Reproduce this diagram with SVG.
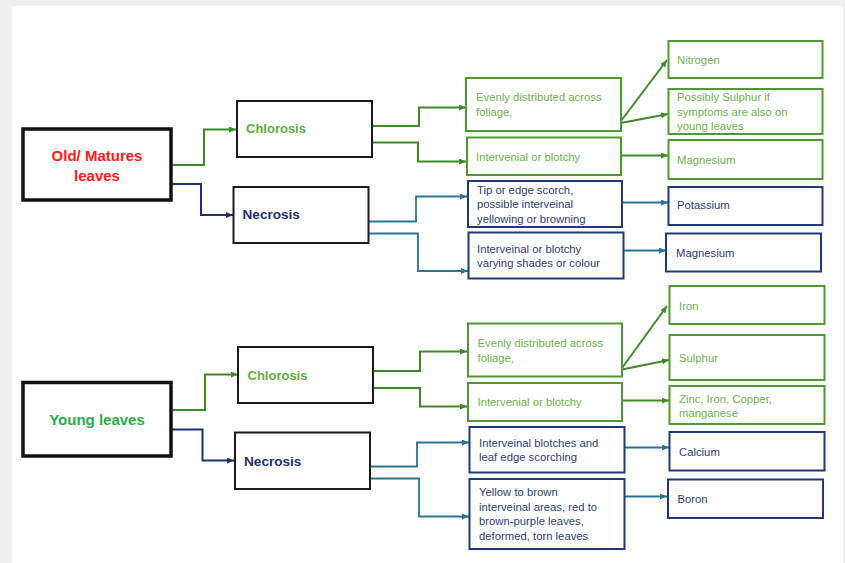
<svg xmlns="http://www.w3.org/2000/svg" width="845" height="563" viewBox="0 0 845 563">
<defs>
<style>
text{font-family:"Liberation Sans",Arial,sans-serif}
.bk{fill:#fff;stroke:#1a1a1a;stroke-width:2}
.bk3{fill:#fff;stroke:#111;stroke-width:3.5}
.gb{fill:#fff;stroke:#4e9a32;stroke-width:2}
.nb{fill:#fff;stroke:#1f3a78;stroke-width:2}
.gt{fill:#6cb44c;font-size:11.3px}
.nt{fill:#2d3d78;font-size:11.3px}
.cl{fill:#5cb03c;font-size:13px;font-weight:bold}
.nc{fill:#1f3070;font-size:13.6px;font-weight:bold}
.g{fill:none;stroke:#3f8a26;stroke-width:2}
.n{fill:none;stroke:#1f3070;stroke-width:2}
.t{fill:none;stroke:#2b7494;stroke-width:1.8}
</style>
<marker id="ag" markerUnits="userSpaceOnUse" markerWidth="8" markerHeight="8" refX="7" refY="3" orient="auto"><path d="M0,0 L7,3 L0,6 z" fill="#3f8a26"/></marker>
<marker id="an" markerUnits="userSpaceOnUse" markerWidth="8" markerHeight="8" refX="7" refY="3" orient="auto"><path d="M0,0 L7,3 L0,6 z" fill="#1f3070"/></marker>
<marker id="at" markerUnits="userSpaceOnUse" markerWidth="8" markerHeight="8" refX="7" refY="3" orient="auto"><path d="M0,0 L7,3 L0,6 z" fill="#2b7494"/></marker>
</defs>
<rect x="0" y="0" width="845" height="563" fill="#f0f0f0"/>
<rect x="12" y="6" width="831" height="557" fill="#fff"/>

<g id="connectors">
<path class="g" marker-end="url(#ag)" d="M171,165 H204 V129.5 H236"/>
<path class="n" marker-end="url(#an)" d="M171,184 H201 V215 H233"/>
<path class="g" marker-end="url(#ag)" d="M372,126 H419 V107.5 H466"/>
<path class="g" marker-end="url(#ag)" d="M372,142.5 H418 V161.5 H466"/>
<path class="t" marker-end="url(#at)" d="M367,221.5 H416 V196.5 H467"/>
<path class="t" marker-end="url(#at)" d="M369,233.5 H418 V271 H468"/>
<path class="g" marker-end="url(#ag)" d="M621,121 L667,60"/>
<path class="g" marker-end="url(#ag)" d="M621,123 L668,114"/>
<path class="g" marker-end="url(#ag)" d="M621,155.5 H668"/>
<path class="t" marker-end="url(#at)" d="M622,202.5 H668"/>
<path class="t" marker-end="url(#at)" d="M623,250.5 H666"/>

<path class="g" marker-end="url(#ag)" d="M171,410 H205 V374.5 H238"/>
<path class="n" marker-end="url(#an)" d="M171,429.5 H202.5 V460.5 H234"/>
<path class="g" marker-end="url(#ag)" d="M374,371 H420 V351.5 H467"/>
<path class="g" marker-end="url(#ag)" d="M374,388 H420 V406.5 H467"/>
<path class="t" marker-end="url(#at)" d="M368,466.5 H417 V442.5 H469"/>
<path class="t" marker-end="url(#at)" d="M370,478.5 H419 V516.5 H469"/>
<path class="g" marker-end="url(#ag)" d="M622,368 L667,306"/>
<path class="g" marker-end="url(#ag)" d="M622,369.5 L669,360"/>
<path class="g" marker-end="url(#ag)" d="M622,400.5 H669"/>
<path class="t" marker-end="url(#at)" d="M624,447.5 H669"/>
<path class="t" marker-end="url(#at)" d="M624,496.5 H667"/>
</g>

<g id="old-leaves"><rect class="bk3" x="23" y="129" width="148" height="71"/>
<text x="97" y="161" text-anchor="middle" fill="#ff1a1a" font-size="15" font-weight="bold">Old/ Matures</text>
<text x="97" y="181" text-anchor="middle" fill="#ff1a1a" font-size="15" font-weight="bold">leaves</text></g>
<g id="old-chlorosis"><rect class="bk" x="237" y="101" width="135" height="56"/><text class="cl" x="246" y="133">Chlorosis</text></g>
<g id="old-necrosis"><rect class="bk" x="233.5" y="187" width="135" height="56"/><text class="nc" x="242.5" y="219">Necrosis</text></g>
<g id="old-evenly"><rect class="gb" x="466" y="78" width="155" height="53"/><text class="gt" x="476" y="101">Evenly distributed across</text><text class="gt" x="476" y="116">foliage,</text></g>
<g id="old-intervenial"><rect class="gb" x="467" y="137.5" width="154" height="37.5"/><text class="gt" x="476" y="160.5">Intervenial or blotchy</text></g>
<g id="old-tip"><rect class="nb" x="468" y="181" width="154" height="46"/><text class="nt" x="477" y="193.5">Tip or edge scorch,</text><text class="nt" x="477" y="208">possible interveinal</text><text class="nt" x="477" y="222.5">yellowing or browning</text></g>
<g id="old-interveinal"><rect class="nb" x="468.5" y="232.5" width="155" height="46"/><text class="nt" x="477" y="252.5">Interveinal or blotchy</text><text class="nt" x="477" y="267">varying shades or colour</text></g>
<g id="nitrogen"><rect class="gb" x="668.5" y="41" width="154" height="37"/><text class="gt" x="677" y="63.5">Nitrogen</text></g>
<g id="sulphur-old"><rect class="gb" x="668.5" y="89" width="154" height="45"/><text class="gt" x="677" y="101">Possibly Sulphur if</text><text class="gt" x="677" y="115.5">symptoms are also on</text><text class="gt" x="677" y="130">young leaves</text></g>
<g id="magnesium-g"><rect class="gb" x="668.5" y="140" width="154" height="39"/><text class="gt" x="677" y="163.5">Magnesium</text></g>
<g id="potassium"><rect class="nb" x="668.5" y="187" width="154" height="38"/><text class="nt" x="677" y="209">Potassium</text></g>
<g id="magnesium-n"><rect class="nb" x="666" y="233.5" width="155" height="38"/><text class="nt" x="676" y="257">Magnesium</text></g>

<g id="young-leaves"><rect class="bk3" x="23" y="382.5" width="148" height="73.5"/>
<text x="97" y="424.5" text-anchor="middle" fill="#1fb04c" font-size="15" font-weight="bold">Young leaves</text></g>
<g id="young-chlorosis"><rect class="bk" x="238" y="347" width="135" height="56"/><text class="cl" x="247.5" y="379.5">Chlorosis</text></g>
<g id="young-necrosis"><rect class="bk" x="235" y="432.5" width="135" height="56.5"/><text class="nc" x="244" y="466">Necrosis</text></g>
<g id="young-evenly"><rect class="gb" x="468" y="323.5" width="154" height="53"/><text class="gt" x="477.5" y="347">Evenly distributed across</text><text class="gt" x="477.5" y="362">foliage,</text></g>
<g id="young-intervenial"><rect class="gb" x="468" y="383" width="154" height="38"/><text class="gt" x="477.5" y="406">Intervenial or blotchy</text></g>
<g id="young-blotches"><rect class="nb" x="469.5" y="427" width="155" height="45.5"/><text class="nt" x="479" y="446.5">Interveinal blotches and</text><text class="nt" x="479" y="461">leaf edge scorching</text></g>
<g id="young-yellow"><rect class="nb" x="469.5" y="479" width="155" height="70"/><text class="nt" x="479" y="495.5">Yellow to brown</text><text class="nt" x="479" y="510.5">interveinal areas, red to</text><text class="nt" x="479" y="525">brown-purple leaves,</text><text class="nt" x="479" y="539.5">deformed, torn leaves</text></g>
<g id="iron"><rect class="gb" x="669.5" y="286" width="155" height="38"/><text class="gt" x="679" y="310">Iron</text></g>
<g id="sulphur"><rect class="gb" x="669.5" y="335" width="155" height="45"/><text class="gt" x="679" y="362">Sulphur</text></g>
<g id="zinc"><rect class="gb" x="669.5" y="386" width="155" height="38"/><text class="gt" x="679" y="403">Zinc, Iron, Copper,</text><text class="gt" x="679" y="417">manganese</text></g>
<g id="calcium"><rect class="nb" x="669.5" y="432" width="155" height="38.5"/><text class="nt" x="679" y="455.5">Calcium</text></g>
<g id="boron"><rect class="nb" x="668" y="479.5" width="155" height="38.5"/><text class="nt" x="677.5" y="503">Boron</text></g>
</svg>
